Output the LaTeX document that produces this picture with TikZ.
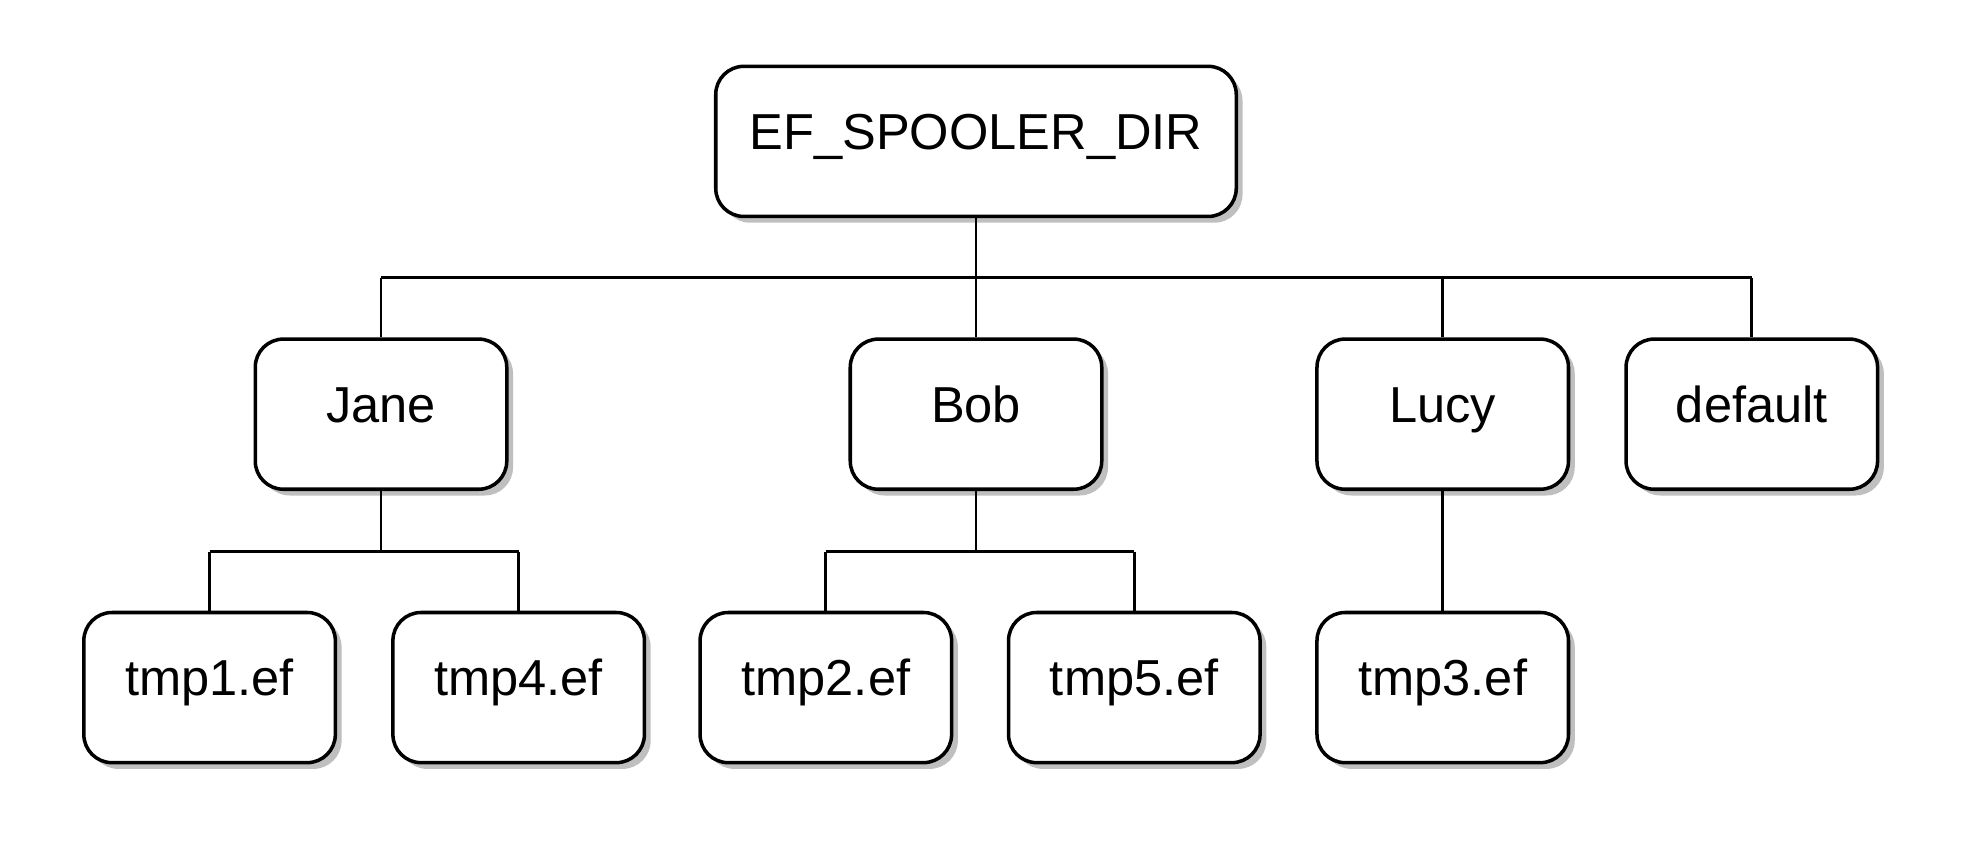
\documentclass[tikz,border=0pt]{standalone}
\usepackage{fontspec}
\setmainfont{Liberation Sans}
\usetikzlibrary{shadows}
\tikzset{
  dirbox/.style={draw, line width=1.6pt, rounded corners=0.45cm, fill=white,
    minimum width=4.02cm, minimum height=2.4cm, font=\fontsize{23}{27}\selectfont,
    text height=0.72em, text depth=0em,
    drop shadow={shadow xshift=0.1cm, shadow yshift=-0.1cm, opacity=0.5}},
  link/.style={line width=1.3pt}
}
\begin{document}
\begin{tikzpicture}
  \useasboundingbox (0,0) rectangle (31.36,-13.78);

  % Root
  \node[dirbox, minimum width=8.32cm] (root) at (15.6,-2.26) {EF\_SPOOLER\_DIR};

  % Users
  \node[dirbox] (jane) at (6.09,-6.62) {Jane};
  \node[dirbox] (bob) at (15.6,-6.62) {Bob};
  \node[dirbox] (lucy) at (23.06,-6.62) {Lucy};
  \node[dirbox] (default) at (28.0,-6.62) {default};

  % Files
  \node[dirbox] (tmp1) at (3.35,-10.99) {tmp1.ef};
  \node[dirbox] (tmp4) at (8.29,-10.99) {tmp4.ef};
  \node[dirbox] (tmp2) at (13.2,-10.99) {tmp2.ef};
  \node[dirbox] (tmp5) at (18.13,-10.99) {tmp5.ef};
  \node[dirbox] (tmp3) at (23.06,-10.99) {tmp3.ef};

  % Connectors
  \coordinate (bus) at (0,-4.44);
  \coordinate (janebus) at (0,-8.82);
  \draw[link] (root.south) -- (root.south |- bus);
  \draw[link] (jane.north |- bus) -- (default.north |- bus);
  \foreach \n in {jane,bob,lucy,default}
    \draw[link] (\n.north |- bus) -- (\n.north);

  \draw[link] (jane.south) -- (jane.south |- janebus);
  \draw[link] (tmp1.north |- janebus) -- (tmp4.north |- janebus);
  \draw[link] (bob.south) -- (bob.south |- janebus);
  \draw[link] (tmp2.north |- janebus) -- (tmp5.north |- janebus);
  \foreach \n in {tmp1,tmp4,tmp2,tmp5}
    \draw[link] (\n.north |- janebus) -- (\n.north);
  \draw[link] (lucy.south) -- (tmp3.north);
\end{tikzpicture}
\end{document}
